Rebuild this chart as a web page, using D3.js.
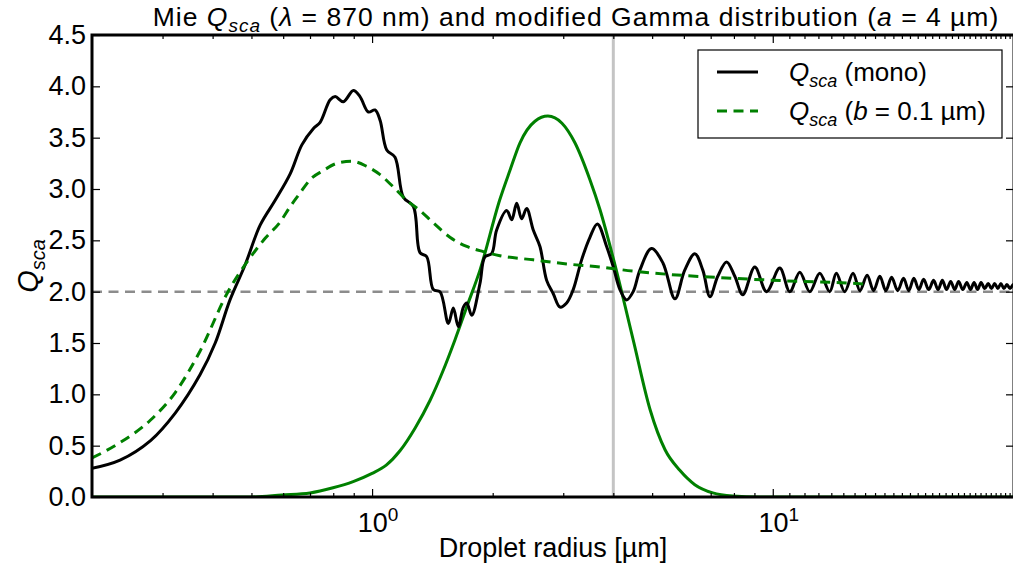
<!DOCTYPE html>
<html><head><meta charset="utf-8">
<script src="https://cdn.jsdelivr.net/npm/d3@7"></script>
<style>
body{margin:0;background:#fff}
svg text{font-family:"Liberation Sans",Arial,Helvetica,sans-serif;fill:#000}
</style></head>
<body><svg id="c" width="1013" height="569"></svg>
<script>
// ---- data ----
const monoR = [0.200,0.235,0.280,0.323,0.372,0.406,0.442,0.482,0.526,0.573,0.625,0.668,0.714,0.742,0.786,0.809,0.848,0.898,0.933,0.979,1.017,1.047,1.088,1.141,1.197,1.268,1.317,1.369,1.422,1.478,1.550,1.595,1.641,1.690,1.723,1.773,1.859,1.913,1.988,2.046,2.168,2.231,2.296,2.362,2.431,2.525,2.624,2.727,2.833,2.944,3.059,3.177,3.334,3.497,3.650,3.849,4.000,4.155,4.318,4.484,4.660,4.980,5.320,5.700,6.030,6.390,6.690,6.970,7.290,7.670,8.040,8.420,9.020,9.650,10.41,11.03,11.68,12.37,13.10,13.87,14.41,15.12,15.86,16.50,17.20,17.85,18.50,19.15,19.80,20.50,21.20,21.85,22.50,23.15,23.80,24.50,25.20,25.85,26.50,27.15,27.80,28.45,29.10,29.80,30.50,31.15,31.80,32.45,33.10,33.80,34.50,35.15,35.80,36.45,37.10,37.75,38.40,39.10,39.80,40.00];
const monoQ = [0.28,0.36,0.55,0.82,1.19,1.50,1.92,2.26,2.65,2.89,3.15,3.43,3.59,3.65,3.87,3.90,3.85,3.96,3.90,3.75,3.77,3.67,3.38,3.31,2.92,2.83,2.38,2.34,2.02,2.00,1.69,1.84,1.66,1.85,1.89,1.77,2.08,2.34,2.37,2.60,2.79,2.70,2.86,2.71,2.81,2.60,2.44,2.11,1.98,1.85,1.89,2.02,2.31,2.53,2.66,2.44,2.24,2.02,1.92,2.00,2.21,2.42,2.28,1.93,2.21,2.37,2.21,1.95,2.15,2.29,2.15,1.97,2.24,2.00,2.23,2.00,2.19,2.00,2.18,2.00,2.18,2.00,2.18,2.01,2.16,2.01,2.15,2.01,2.14,2.01,2.13,2.01,2.13,2.02,2.12,2.02,2.11,2.02,2.11,2.02,2.10,2.02,2.10,2.02,2.09,2.02,2.09,2.02,2.09,2.03,2.08,2.03,2.08,2.03,2.08,2.03,2.07,2.03,2.07,2.06];

const distR = [0.200,0.235,0.280,0.323,0.372,0.437,0.496,0.541,0.590,0.625,0.661,0.700,0.756,0.817,0.890,0.970,1.047,1.130,1.220,1.317,1.422,1.564,1.723,1.895,2.085,2.525,3.059,3.704,4.484,5.43,7.96,11.68,16.13,17.4];
const distQ = [0.38,0.53,0.75,1.02,1.42,2.00,2.33,2.52,2.68,2.83,2.96,3.09,3.18,3.25,3.27,3.22,3.14,3.02,2.89,2.79,2.67,2.53,2.44,2.39,2.35,2.31,2.27,2.24,2.20,2.17,2.13,2.10,2.08,2.07];

const gammaR = [0.200,0.496,0.596,0.700,0.799,0.897,1.000,1.085,1.174,1.280,1.395,1.500,1.610,1.730,1.859,2.085,2.208,2.340,2.550,2.747,2.978,3.208,3.497,3.704,4.038,4.484,4.942,5.385,5.862,6.390,7.085,7.947,9.27,40.0];
const gammaN = [0.00,0.00,0.02,0.04,0.09,0.15,0.23,0.31,0.45,0.67,0.94,1.22,1.53,1.87,2.21,2.90,3.18,3.45,3.66,3.71,3.64,3.45,3.09,2.80,2.26,1.53,0.85,0.46,0.26,0.12,0.04,0.01,0.00,0.00];

const refQ = 2.0;          // horizontal reference line
const aRadius = 4;         // vertical line at a = 4 µm
const yTicks = [0,0.5,1,1.5,2,2.5,3,3.5,4,4.5];
const yTickLabels = ["0.0","0.5","1.0","1.5","2.0","2.5","3.0","3.5","4.0","4.5"];
const xMajor = [1,10];
const xMajorExp = ["0","1"];
const xMinor = [0.3,0.4,0.5,0.6,0.7,0.8,0.9,2,3,4,5,6,7,8,9,11,12,13,14,15,16,17,18,19,20,21,22,23,24,25,26,27,28,29,30,31,32,33,34,35,36,37,38,39];

// ---- layout ----
const L=92, R=1014, T=35, B=497;
const svg = d3.select("#c");
const x = d3.scaleLog().domain([0.2,40]).range([L,R]);
const y = d3.scaleLinear().domain([0,4.5]).range([B,T]);
const FS = 27;

svg.append("defs").append("clipPath").attr("id","clp")
  .append("rect").attr("x",L).attr("y",T).attr("width",R-L).attr("height",B-T);
const plot = svg.append("g").attr("clip-path","url(#clp)");

// reference lines
plot.append("line").attr("x1",x(aRadius)).attr("x2",x(aRadius)).attr("y1",T).attr("y2",B)
  .attr("stroke","#c4c4c4").attr("stroke-width",3);
plot.append("line").attr("x1",L).attr("x2",R).attr("y1",y(refQ)).attr("y2",y(refQ))
  .attr("stroke","#8c8c8c").attr("stroke-width",2.5).attr("stroke-dasharray","10,6.5");

const zip = (a,b)=>a.map((v,i)=>[v,b[i]]);
const lineM = d3.line().x(d=>x(d[0])).y(d=>y(d[1])).curve(d3.curveMonotoneX);
const lineC = d3.line().x(d=>x(d[0])).y(d=>y(d[1])).curve(d3.curveCatmullRom.alpha(0.5));

plot.append("path").attr("d",lineM(zip(gammaR,gammaN)))
  .attr("fill","none").attr("stroke","#008000").attr("stroke-width",3);
plot.append("path").attr("d",lineC(zip(monoR,monoQ)))
  .attr("fill","none").attr("stroke","#000").attr("stroke-width",3).attr("stroke-linejoin","round");
plot.append("path").attr("d",lineM(zip(distR,distQ)))
  .attr("fill","none").attr("stroke","#008000").attr("stroke-width",3).attr("stroke-dasharray","10,6.5");

// ticks (inward, all four sides)
function tk(axis, tr){ const g = svg.append("g").attr("transform",tr).call(axis);
  g.select(".domain").remove(); g.selectAll("line").attr("stroke","#000").attr("stroke-width",1.2); return g; }
tk(d3.axisBottom(x).tickValues(xMajor).tickSize(-8).tickFormat(""), `translate(0,${B})`);
tk(d3.axisBottom(x).tickValues(xMinor).tickSize(-4).tickFormat(""), `translate(0,${B})`);
tk(d3.axisTop(x).tickValues(xMajor).tickSize(-8).tickFormat(""), `translate(0,${T})`);
tk(d3.axisTop(x).tickValues(xMinor).tickSize(-4).tickFormat(""), `translate(0,${T})`);
const yl = tk(d3.axisLeft(y).tickValues(yTicks).tickSize(-8).tickPadding(6).tickFormat((d,i)=>yTickLabels[i]), `translate(${L},0)`);
yl.selectAll("text").attr("font-size",FS).attr("font-family","Liberation Sans, Arial, sans-serif");
tk(d3.axisRight(y).tickValues(yTicks).tickSize(-8).tickFormat(""), `translate(${R},0)`);

// x tick labels with superscripts
xMajor.forEach((v,i)=>{
  const t = svg.append("text").attr("x",x(v)+6).attr("y",532).attr("text-anchor","middle").attr("font-size",FS);
  t.append("tspan").text("10");
  t.append("tspan").attr("font-size",19).attr("dy",-11).text(xMajorExp[i]);
});

// frame
svg.append("rect").attr("x",L).attr("y",T).attr("width",R-L).attr("height",B-T)
  .attr("fill","none").attr("stroke","#000").attr("stroke-width",3);

// axis labels
svg.append("text").attr("x",(L+R)/2).attr("y",557).attr("text-anchor","middle").attr("font-size",FS)
  .text("Droplet radius [µm]");
const ylab = svg.append("text").attr("transform",`translate(38,${(T+B)/2}) rotate(-90)`).attr("text-anchor","middle").attr("font-size",29);
ylab.append("tspan").attr("font-style","italic").text("Q");
ylab.append("tspan").attr("font-style","italic").attr("font-size",20).attr("dy",7).text("sca");

// title
const tt = svg.append("text").attr("x",576).attr("y",26).attr("text-anchor","middle")
  .attr("font-size",26.5).attr("letter-spacing","1px");
tt.append("tspan").text("Mie ");
tt.append("tspan").attr("font-style","italic").text("Q");
tt.append("tspan").attr("font-style","italic").attr("font-size",19).attr("dy",6).text("sca");
tt.append("tspan").attr("dy",-6).text(" (");
tt.append("tspan").attr("font-style","italic").text("λ");
tt.append("tspan").text(" = 870 nm) and modified Gamma distribution (");
tt.append("tspan").attr("font-style","italic").text("a");
tt.append("tspan").text(" = 4 µm)");

// legend
const lg = svg.append("g");
lg.append("rect").attr("x",698).attr("y",50).attr("width",304).attr("height",88)
  .attr("fill","#fff").attr("stroke","#000").attr("stroke-width",1.2);
const entries = [{stroke:"#000",dash:null,b:false},{stroke:"#008000",dash:"10,6.5",b:true}];
entries.forEach((e,i)=>{
  const yy = 72 + i*39;
  lg.append("line").attr("x1",717).attr("x2",758).attr("y1",yy).attr("y2",yy)
    .attr("stroke",e.stroke).attr("stroke-width",3).attr("stroke-dasharray",e.dash);
  const t = lg.append("text").attr("x",789).attr("y",yy+9).attr("font-size",26);
  t.append("tspan").attr("font-style","italic").text("Q");
  t.append("tspan").attr("font-style","italic").attr("font-size",18).attr("dy",6).text("sca");
  if(!e.b){ t.append("tspan").attr("dy",-6).text(" (mono)"); }
  else { t.append("tspan").attr("dy",-6).text(" (");
         t.append("tspan").attr("font-style","italic").text("b");
         t.append("tspan").text(" = 0.1 µm)"); }
});
</script></body></html>
